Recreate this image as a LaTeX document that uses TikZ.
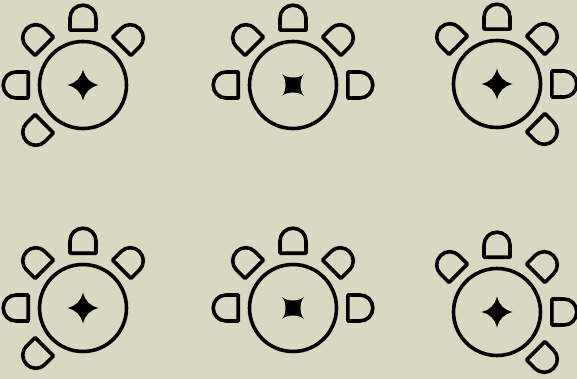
\documentclass[tikz,border=0pt]{standalone}
\definecolor{bgcol}{HTML}{D9D9C1}
\definecolor{inkcol}{HTML}{000000}
\tikzset{
  x=1pt,y=-1pt,
  ink/.style={draw=inkcol,line width=3.6pt,line join=round},
}
% centre x, centre y, petal angles (counter-clockwise from east on the page)
\newcommand{\unitbase}[3]{%
  \draw[ink] (#1,#2) circle[radius=43.5];
  \foreach \a in {#3}{
    \begin{scope}[shift={(#1,#2)},rotate=\a]
      \draw[ink] (54.8,-13) -- (54.8,13) -- (67,13) .. controls (74.2,13) and (79.8,7.2) .. (79.8,0) .. controls (79.8,-7.2) and (74.2,-13) .. (67,-13) -- cycle;
    \end{scope}
  }}
\newcommand{\unitdraw}[3]{%
  \unitbase{#1}{#2}{#3}
  \begin{scope}[shift={(#1,#2)}]
    \fill[inkcol] (-15.5,0) .. controls (-6.5,-2.5) and (-2.5,-6.5) .. (0,-15.5) .. controls (2.5,-6.5) and (6.5,-2.5) .. (15.5,0) .. controls (6.5,2.5) and (2.5,6.5) .. (0,15.5) .. controls (-2.5,6.5) and (-6.5,2.5) .. (-15.5,0) -- cycle;
  \end{scope}}
\newcommand{\unitsquare}[3]{%
  \unitbase{#1}{#2}{#3}
  \begin{scope}[shift={(#1,#2)}]
    \fill[inkcol] (-11,-11) .. controls (-6,-6.3) and (6,-6.3) .. (11,-11) .. controls (6.3,-6) and (6.3,6) .. (11,11) .. controls (6,6.3) and (-6,6.3) .. (-11,11) .. controls (-6.3,6) and (-6.3,-6) .. (-11,-11) -- cycle;
  \end{scope}}
\begin{document}
\begin{tikzpicture}
  \fill[bgcol] (0,0) rectangle (577,379);
  \useasboundingbox (0,0) rectangle (577,379);
  \begin{scope}
    \clip (0,0) rectangle (577,379);
    \unitdraw{83}{85}{90,45,135,180,225}
    \unitsquare{293}{85}{90,45,135,180,0}
    \unitdraw{497}{84}{90,45,135,0,-45}
    \unitdraw{83}{308}{90,45,135,180,225}
    \unitsquare{293}{308}{90,45,135,180,0}
    \unitdraw{497}{312}{90,45,135,0,-45}
  \end{scope}
\end{tikzpicture}
\end{document}
